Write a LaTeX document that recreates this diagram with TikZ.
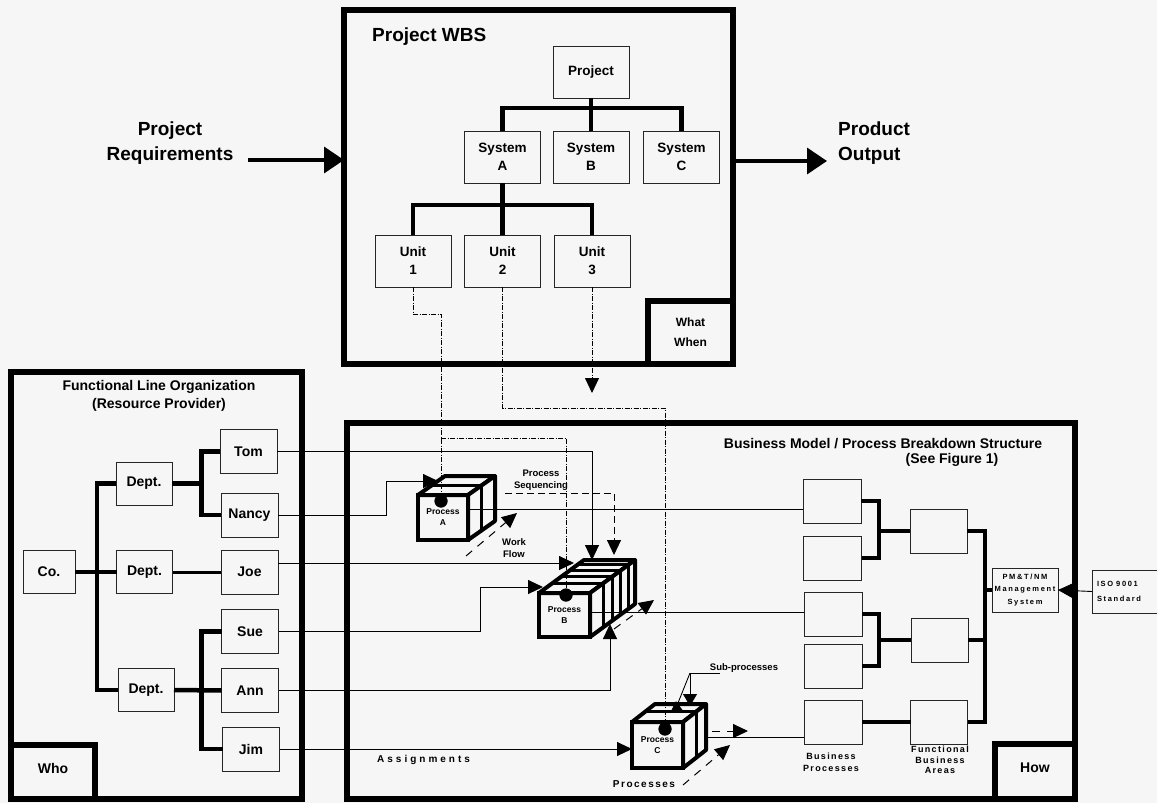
\documentclass[tikz,border=0pt]{standalone}
\usepackage{fontspec}
\setmainfont{Liberation Sans}
\newfontfamily\trackwide[LetterSpace=30]{Liberation Sans}
\newfontfamily\trackmid[LetterSpace=15]{Liberation Sans}
\newfontfamily\tracktight[LetterSpace=22]{Liberation Sans}
\usetikzlibrary{arrows.meta,calc}
\definecolor{paper}{RGB}{246,246,246}
\newcommand\sz[2]{\fontsize{#1}{#2}\selectfont\bfseries}

\begin{document}
\begin{tikzpicture}[x=1pt,y=-1pt,
  bigframe/.style={draw, line width=6.5pt, inner sep=0pt, outer sep=0pt},
  cornerbox/.style={draw, line width=6.5pt, inner sep=0pt, outer sep=0pt, align=center},
  box/.style={draw=black!85, line width=0.9pt, fill=paper, inner sep=0pt, outer sep=0pt, align=center},
  wbsbox/.style={box, minimum width=76, minimum height=52, font=\sz{13.5}{18}},
  orgbox/.style={box, minimum width=56, minimum height=43, font=\sz{14}{17}},
  persbox/.style={box, minimum width=57, minimum height=44, font=\sz{14}{17}},
  bpbox/.style={box, minimum width=58, minimum height=44},
  treeline/.style={line width=4.5pt},
  thinlink/.style={line width=0.9pt},
  unitlink/.style={line width=0.8pt, dash pattern=on 5pt off 1.5pt on 1pt off 1.5pt},
  seqline/.style={line width=0.9pt, dash pattern=on 7pt off 4pt},
  flowline/.style={line width=1pt, dash pattern=on 8pt off 7pt},
  arrowhd/.style={-{Triangle[length=15pt,width=14pt]}},
  bigtip/.style={line width=3.5pt, -{Triangle[length=20pt,width=26pt]}},
  cubeface/.style={line width=4pt, line join=round, fill=paper},
  cubefront/.style={draw, line width=4pt, fill=paper, inner sep=0pt, outer sep=0pt, align=center, font=\sz{8.5}{11}},
  blackdot/.style={circle, fill=black, inner sep=0pt, minimum size=13pt},
  lbl/.style={inner sep=0pt, anchor=base},
]
\useasboundingbox (0,0) rectangle (1157,803);
\fill[paper] (0,0) rectangle (1157,803);

% ---------- outer frames ----------
\node[bigframe, minimum width=389, minimum height=354] (wbs) at (538.5,187) {};
\node[bigframe, minimum width=291, minimum height=427] (flo) at (156.5,585.5) {};
\node[bigframe, minimum width=728, minimum height=376] (bm) at (711,611) {};

\node[cornerbox, minimum width=85, minimum height=63, font=\sz{12}{20}] (ww) at (690.5,332.5) {What\\When};
\node[cornerbox, minimum width=84, minimum height=54, font=\sz{14}{17}, text depth=7pt] (who) at (53,772) {Who};
\node[cornerbox, minimum width=80, minimum height=55, font=\sz{14}{17}, text depth=7pt] (how) at (1035,771.5) {How};

% ---------- titles ----------
\node[lbl, anchor=base west, font=\sz{19}{23}] (wbstitle) at (372,41) {Project WBS};
\node[lbl, font=\sz{14}{17}] (flot1) at (159,390) {Functional Line Organization};
\node[lbl, font=\sz{14}{17}] (flot2) at (159,408) {(Resource Provider)};
\node[lbl, font=\sz{14}{17}] (bmt1) at (883,448) {Business Model / Process Breakdown Structure};
\node[lbl, font=\sz{14}{17}] (bmt2) at (952,463) {(See Figure 1)};

% ---------- inputs and outputs of the WBS ----------
\node[lbl, font=\sz{19}{24}] (req1) at (170,135) {Project};
\node[lbl, font=\sz{19}{24}] (req2) at (170,160) {Requirements};
\coordinate (reqtail) at (248,160);
\draw[bigtip] (reqtail) -- (reqtail -| wbs.west);
\node[lbl, anchor=base west, font=\sz{19}{24}] (out1) at (838,135) {Product};
\node[lbl, anchor=base west, font=\sz{19}{24}] (out2) at (838,160) {Output};
\coordinate (outtip) at (827,161);
\draw[bigtip] (outtip -| wbs.east) -- (outtip);

% ---------- work breakdown structure ----------
\node[wbsbox] (proj) at (591,72) {Project};
\node[wbsbox] (sysA) at (502.5,157) {System\\A};
\node[wbsbox] (sysB) at (591,157) {System\\B};
\node[wbsbox] (sysC) at (681.5,157) {System\\C};
\node[wbsbox] (unit1) at (413,261) {Unit\\1};
\node[wbsbox] (unit2) at (502.5,261) {Unit\\2};
\node[wbsbox] (unit3) at (592,261) {Unit\\3};
\draw[treeline] (proj.south) -- (sysB.north);
\draw[treeline] (sysA.north) -- ++(0,-23) -| (sysC.north);
\draw[treeline] (sysA.south) -- (unit2.north);
\draw[treeline] (unit1.north) -- ++(0,-30) -| (unit3.north);

% ---------- functional line organization ----------
\node[orgbox, minimum width=52] (co) at (49,572) {Co.};
\node[orgbox] (d1) at (144,483.5) {Dept.};
\node[orgbox] (d2) at (144.5,572) {Dept.};
\node[orgbox] (d3) at (146,690) {Dept.};
\node[persbox] (tom) at (248.5,451.5) {Tom};
\node[persbox] (nancy) at (249.5,515) {Nancy};
\node[persbox] (joe) at (249.5,572) {Joe};
\node[persbox] (sue) at (250,631.5) {Sue};
\node[persbox] (ann) at (250,690.5) {Ann};
\node[persbox] (jim) at (251,749) {Jim};
\draw[treeline] (co.east) -- (d2.west);
\draw[treeline] (d1.west) -- ++(-19,0) |- (d3.west);
\draw[treeline] (d1.east) -- ++(29.5,0);
\draw[treeline] (tom.west) -- ++(-18.5,0) |- (nancy.west);
\draw[treeline, line width=3pt] (d2.east) -- (joe.west);
\draw[treeline] (d3.east) -- (ann.west);
\draw[treeline] (sue.west) -- ++(-20,0) |- (jim.west);

% ---------- business processes and functional areas ----------
\node[bpbox] (bp1) at (832,501) {};
\node[bpbox] (bp2) at (832.5,558) {};
\node[bpbox] (bp3) at (833,614) {};
\node[bpbox] (bp4) at (833,666) {};
\node[bpbox] (bp5) at (833,722) {};
\node[bpbox, minimum width=57] (fba1) at (938.5,531) {};
\node[bpbox, minimum width=57] (fba2) at (939.5,640) {};
\node[bpbox, minimum width=57] (fba3) at (939,722) {};
\node[box, minimum width=66, minimum height=44, font=\tracktight\sz{7.5}{12.5}] (pm) at (1025,590) {PM\&T/NM\\Management\\System};
\node[box, text width=62, inner xsep=5pt, minimum height=43, align=left, font=\tracktight\sz{7.5}{15}] (iso) at (1128,591.5) {ISO\hspace{3pt}9001\\Standard};
\draw[treeline, line width=4pt] (bp1.east) -- ++(17.5,0) |- (bp2.east);
\draw[treeline, line width=4pt] (fba1.west) -- ++(-31.5,0);
\draw[treeline, line width=4pt] (bp3.east) -- ++(17,0) |- (bp4.east);
\draw[treeline, line width=4pt] (fba2.west) -- ++(-32,0);
\draw[treeline, line width=4pt] (bp5.east) -- (fba3.west);
\draw[treeline, line width=4pt] (fba1.east) -- ++(17.5,0) |- (fba3.east);
\draw[treeline, line width=4pt] (fba2.east) -- ++(16,0);
\draw[treeline, line width=4pt] (pm.west) -- ++(-7.5,0);
\draw[thinlink, -{Triangle[length=17pt,width=17pt]}] (iso.west) -- (pm.east);

\node[lbl, font=\trackmid\sz{9}{11}] (bpl1) at (831,759) {Business};
\node[lbl, font=\trackmid\sz{9}{11}] (bpl2) at (831,771) {Processes};
\node[lbl, font=\trackmid\sz{9}{11}] (fal1) at (940,752) {Functional};
\node[lbl, font=\trackmid\sz{9}{11}] (fal2) at (940,763) {Business};
\node[lbl, font=\trackmid\sz{9}{11}] (fal3) at (940,773) {Areas};

% ---------- process cubes ----------
% Process A
\node[cubefront, minimum width=50, minimum height=45] (pA) at (443,517.5) {Process\\A};
\draw[cubeface] (pA.north west) -- ++(27,-19) -- ++(50,0) -- ++(-27,19) -- cycle;
\draw[cubeface] (pA.north east) -- ++(27,-19) -- ++(0,45) -- ++(-27,19) -- cycle;
\draw[line width=3pt] ($(pA.north west)+(13.5,-9.5)$) -- ++(50,0) -- ++(0,45);
% Process B
\node[cubefront, minimum width=51, minimum height=44] (pB) at (564.5,615) {Process\\B};
\draw[cubeface] (pB.north west) -- ++(45,-33) -- ++(51,0) -- ++(-45,33) -- cycle;
\draw[cubeface] (pB.north east) -- ++(45,-33) -- ++(0,44) -- ++(-45,33) -- cycle;
\foreach \t in {0.3,0.5,0.67,0.85}
  \draw[line width=3pt] ($(pB.north west)+(45*\t,-33*\t)$) -- ++(51,0) -- ++(0,44);
% Process C
\node[cubefront, minimum width=51, minimum height=46] (pC) at (657.5,745) {Process\\C};
\draw[cubeface] (pC.north west) -- ++(23,-18) -- ++(51,0) -- ++(-23,18) -- cycle;
\draw[cubeface] (pC.north east) -- ++(23,-18) -- ++(0,46) -- ++(-23,18) -- cycle;
\draw[line width=3pt] ($(pC.north west)+(13.8,-10.8)$) -- ++(51,0) -- ++(0,46);

% ---------- resource assignments ----------
\coordinate (aNancy) at (438,481);
\coordinate (bTom) at (592,560);
\coordinate (bJoe) at (574,563);
\coordinate (bSue) at (543,587);
\coordinate (bAnn) at (610,624);
\draw[thinlink, arrowhd] (tom.east) -| (bTom);
\draw[thinlink, arrowhd] (nancy.east) -- ++(108,0) |- (aNancy);
\draw[thinlink, arrowhd] ([yshift=9pt]joe.east) -- (bJoe);
\draw[thinlink, arrowhd] (sue.east) -- ++(201.5,0) |- (bSue);
\draw[thinlink, arrowhd] (ann.east) -| (bAnn);
\draw[thinlink, arrowhd] (jim.east) -- (jim.east -| pC.west);
\node[lbl, anchor=base west, font=\trackwide\sz{10}{12}] (assign) at (377,762) {Assignments};

% ---------- process outputs ----------
\draw[thinlink] ([yshift=8.5pt]pA.east) coordinate (aout) -- (aout -| bp1.west);
\draw[thinlink] ([yshift=3pt]pB.east) coordinate (bout) -- (bout -| bp3.west);
\draw[thinlink] ([shift={(23pt,8pt)}]pC.east) coordinate (cout) -- (cout -| bp5.west);

% ---------- WBS units to processes ----------
\node[blackdot] (dA) at (441,501) {};
\node[blackdot] (dB) at (566,595) {};
\node[blackdot] (dC) at (665,729) {};
\coordinate (u1split) at (441,438);
\coordinate (u3end) at (592,393);
\draw[unitlink] (unit1.south) -- ++(0,27) -| (dA);
\draw[unitlink] (u1split) -| (dB);
\draw[unitlink] (unit2.south) -- ++(0,121) -| (dC);
\draw[unitlink, arrowhd] (unit3.south) -- (u3end);
\node[blackdot] at (dA) {};
\node[blackdot] at (dB) {};
\node[blackdot] at (dC) {};

% ---------- sequencing and work flow ----------
\coordinate (seqstart) at (505,493);
\coordinate (seqend) at (614,555);
\draw[seqline, arrowhd] (seqstart) -| (seqend);
\node[lbl, font=\sz{9.5}{11}] (sq1) at (541,476) {Process};
\node[lbl, font=\sz{9.5}{11}] (sq2) at (541,488) {Sequencing};

\coordinate (wfA0) at (466,556);
\coordinate (wfA1) at (517,513);
\draw[flowline, arrowhd] (wfA0) -- (wfA1);
\node[lbl, font=\sz{9.5}{11}] (wf1) at (514,545) {Work};
\node[lbl, font=\sz{9.5}{11}] (wf2) at (514,557) {Flow};

\coordinate (wfB0) at (614,629);
\coordinate (wfB1) at (654,600);
\draw[flowline, arrowhd] (wfB0) -- (wfB1);

\coordinate (wfC0) at (683,785);
\coordinate (wfC1) at (730,745);
\draw[flowline, arrowhd] (wfC0) -- (wfC1);
\coordinate (wfC2) at (712,731);
\coordinate (wfC3) at (748,731);
\draw[flowline, arrowhd] (wfC2) -- (wfC3);
\node[lbl, font=\trackmid\sz{10}{12}] (procs) at (644,787) {Processes};

% ---------- sub-processes ----------
\node[lbl, font=\sz{9.5}{11}] (subp) at (744,670) {Sub-processes};
\coordinate (spfork) at (690,673);
\coordinate (spdown) at (690,706);
\coordinate (spleft) at (684,712);
\draw[thinlink] (spfork) -- ++(30,0);
\draw[thinlink, -{Triangle[length=12pt,width=14pt]}] (spfork) -- (spdown);
\draw[thinlink] (spfork) -- (676,708) coordinate (spbend);
\draw[thinlink, -{Triangle[length=12pt,width=12pt]}] (spbend) -- (spleft);
\end{tikzpicture}
\end{document}
